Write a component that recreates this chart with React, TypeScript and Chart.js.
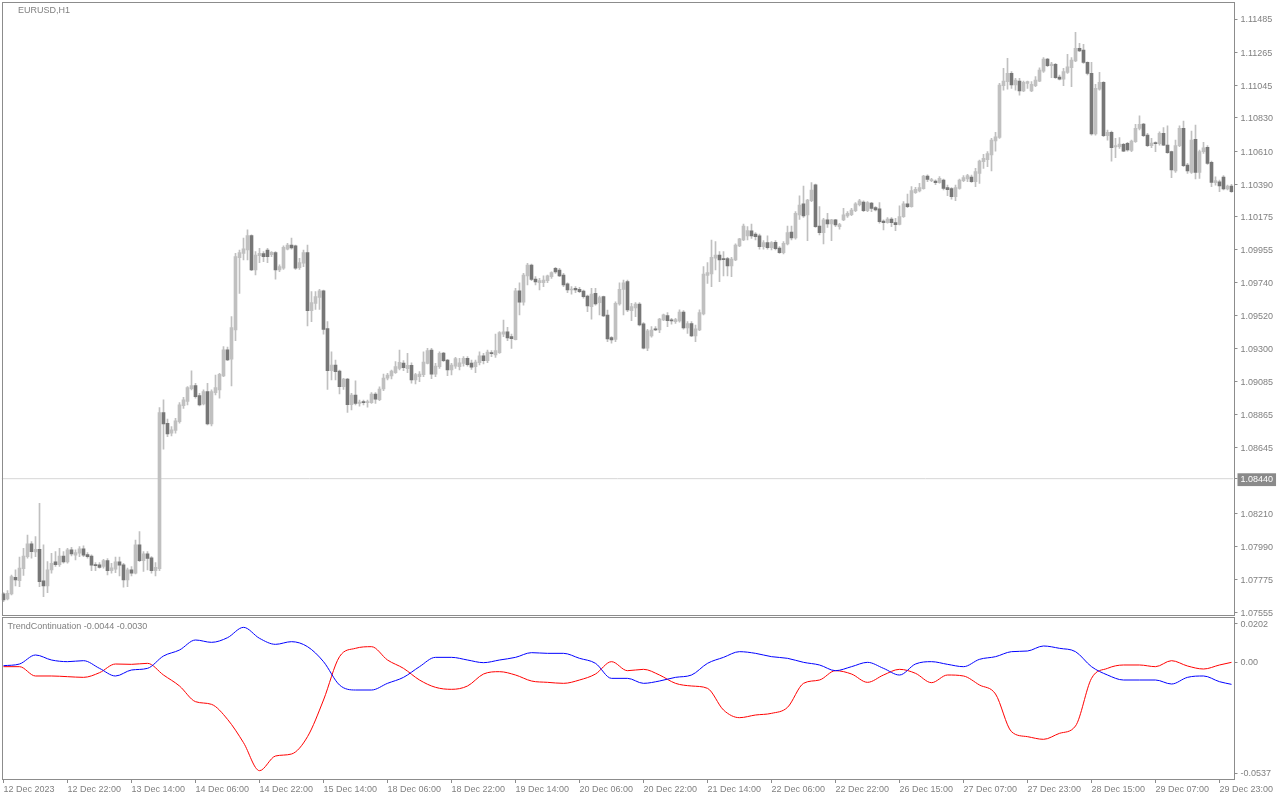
import { useEffect, useRef } from 'react';
import { Chart, registerables } from 'chart.js';

Chart.register(...registerables);

const symbolTitle = 'EURUSD,H1';
const indicatorTitle = 'TrendContinuation -0.0044 -0.0030';

const timeTickLabels = [
  '12 Dec 2023', '12 Dec 22:00', '13 Dec 14:00', '14 Dec 06:00', '14 Dec 22:00',
  '15 Dec 14:00', '18 Dec 06:00', '18 Dec 22:00', '19 Dec 14:00', '20 Dec 06:00',
  '20 Dec 22:00', '21 Dec 14:00', '22 Dec 06:00', '22 Dec 22:00', '26 Dec 15:00',
  '27 Dec 07:00', '27 Dec 23:00', '28 Dec 15:00', '29 Dec 07:00', '29 Dec 23:00',
];
const barsPerTimeTick = 16;

const priceTicks = [
  1.11485, 1.11265, 1.11045, 1.1083, 1.1061, 1.1039, 1.10175, 1.09955, 1.0974, 1.0952,
  1.093, 1.09085, 1.08865, 1.08645, 1.0844, 1.0821, 1.0799, 1.07775, 1.07555,
];
const currentPrice = 1.0844;
const priceMin = 1.07537;
const priceMax = 1.11591;

const indicatorMin = -0.0537;
const indicatorMax = 0.0202;
const indicatorTickLabels = ['0.0202', '0.00', '-0.0537'];

const opens = [
  1.07677, 1.07644, 1.07677, 1.07787, 1.07765, 1.07844, 1.07924, 1.08008, 1.07955, 1.07972,
  1.07763, 1.0773, 1.07836, 1.07889, 1.07871, 1.07928, 1.07889, 1.07968, 1.07933, 1.07946,
  1.07975, 1.07937, 1.07928, 1.07869, 1.07869, 1.07858, 1.07897, 1.07831, 1.0784, 1.07889,
  1.07869, 1.07769, 1.07836, 1.07814, 1.08001, 1.07897, 1.07942, 1.07915, 1.07831, 1.07844,
  1.08878, 1.08807, 1.08741, 1.08759, 1.08818, 1.08924, 1.08951, 1.09037, 1.09057, 1.0899,
  1.08935, 1.09017, 1.08803, 1.0901, 1.09028, 1.09121, 1.09293, 1.09231, 1.09425, 1.09904,
  1.09933, 1.09955, 1.1005, 1.09823, 1.09918, 1.09931, 1.09955, 1.09924, 1.09938, 1.09823,
  1.09834, 1.0996, 1.09988, 1.09982, 1.09838, 1.09867, 1.09938, 1.09553, 1.09601, 1.09641,
  1.09685, 1.09434, 1.09155, 1.09193, 1.09153, 1.09049, 1.091, 1.0893, 1.08994, 1.08939,
  1.08948, 1.08944, 1.08944, 1.09001, 1.08963, 1.09034, 1.09105, 1.0912, 1.09142, 1.09171,
  1.09206, 1.09169, 1.09191, 1.09094, 1.09116, 1.09129, 1.09204, 1.09292, 1.09133, 1.09182,
  1.09272, 1.09226, 1.0916, 1.09186, 1.09182, 1.09204, 1.09237, 1.09206, 1.09182, 1.09208,
  1.09253, 1.09222, 1.09275, 1.09259, 1.09275, 1.09398, 1.09412, 1.09381, 1.09361, 1.09685,
  1.0961, 1.09783, 1.09855, 1.09763, 1.09738, 1.09738, 1.09752, 1.09778, 1.09833, 1.09822,
  1.09789, 1.0973, 1.0969, 1.09701, 1.09694, 1.09683, 1.0965, 1.09579, 1.09668, 1.09606,
  1.09646, 1.09524, 1.09374, 1.09363, 1.09597, 1.09694, 1.09745, 1.09553, 1.09571, 1.09597,
  1.09465, 1.09304, 1.09385, 1.09432, 1.09425, 1.09491, 1.0952, 1.09491, 1.0948, 1.09485,
  1.09544, 1.09438, 1.09467, 1.09385, 1.09425, 1.09531, 1.09787, 1.09796, 1.099, 1.09922,
  1.09898, 1.09898, 1.09849, 1.09889, 1.09982, 1.10021, 1.10048, 1.10081, 1.10061, 1.10048,
  1.09977, 1.10004, 1.09971, 1.10006, 1.09968, 1.09937, 1.09995, 1.10074, 1.10035, 1.10187,
  1.1026, 1.10187, 1.10282, 1.10386, 1.10114, 1.1007, 1.10154, 1.10127, 1.10154, 1.1011,
  1.10154, 1.1018, 1.10189, 1.10216, 1.10255, 1.10273, 1.10216, 1.10266, 1.10236, 1.10227,
  1.10147, 1.10136, 1.1016, 1.10136, 1.10125, 1.10176, 1.1026, 1.10242, 1.10335, 1.10346,
  1.10361, 1.10445, 1.10414, 1.10412, 1.10401, 1.10418, 1.10368, 1.10361, 1.10308, 1.10363,
  1.10414, 1.10425, 1.10438, 1.10407, 1.10462, 1.1054, 1.10553, 1.10584, 1.10677, 1.10701,
  1.11043, 1.1107, 1.11125, 1.11048, 1.11074, 1.11008, 1.11059, 1.11008, 1.11043, 1.11074,
  1.1114, 1.1122, 1.11176, 1.11184, 1.11101, 1.11087, 1.11131, 1.11162, 1.11207, 1.1129,
  1.11279, 1.11198, 1.11125, 1.10723, 1.11021, 1.11065, 1.10712, 1.10734, 1.10637, 1.10639,
  1.10655, 1.10661, 1.10615, 1.10672, 1.10761, 1.10789, 1.10716, 1.10646, 1.10663, 1.10659,
  1.10727, 1.1065, 1.10606, 1.10478, 1.10646, 1.10761, 1.10518, 1.10469, 1.10688, 1.10469,
  1.10606, 1.10635, 1.10535, 1.10401, 1.10407, 1.10438, 1.10359, 1.10379,
];

const highs = [
  1.07685, 1.07699, 1.07802, 1.07836, 1.0792, 1.07979, 1.08067, 1.08023, 1.08056, 1.08277,
  1.08001, 1.07891, 1.07946, 1.07957, 1.07979, 1.07957, 1.07979, 1.07986, 1.07968, 1.0799,
  1.07995, 1.0795, 1.07935, 1.07884, 1.07884, 1.07906, 1.07911, 1.0788, 1.0792, 1.0792,
  1.0788, 1.07847, 1.07858, 1.08034, 1.0809, 1.07957, 1.07957, 1.07924, 1.07884, 1.08911,
  1.08962, 1.08834, 1.08785, 1.0884, 1.08944, 1.08979, 1.0905, 1.09154, 1.09072, 1.09006,
  1.09028, 1.09072, 1.09028, 1.09127, 1.09138, 1.09315, 1.09311, 1.09514, 1.09933, 1.09955,
  1.10033, 1.10088, 1.10055, 1.09944, 1.09966, 1.09944, 1.09966, 1.09944, 1.09944, 1.09856,
  1.09982, 1.09999, 1.10033, 1.09988, 1.099, 1.09955, 1.09988, 1.09679, 1.09679, 1.09694,
  1.0969, 1.0948, 1.09281, 1.09226, 1.0916, 1.09105, 1.09105, 1.09005, 1.09089, 1.08961,
  1.08961, 1.08961, 1.0901, 1.0901, 1.09049, 1.09133, 1.09138, 1.0916, 1.09215, 1.09292,
  1.09222, 1.0927, 1.09208, 1.09138, 1.09149, 1.09281, 1.09303, 1.09303, 1.09204, 1.09281,
  1.09277, 1.09231, 1.09204, 1.09244, 1.09237, 1.09248, 1.09248, 1.09226, 1.09226, 1.09281,
  1.0927, 1.09292, 1.09288, 1.09398, 1.09414, 1.09491, 1.09442, 1.09398, 1.09701, 1.09738,
  1.098, 1.09866, 1.09862, 1.09778, 1.09767, 1.09783, 1.09789, 1.09811, 1.0984, 1.09833,
  1.098, 1.09738, 1.09712, 1.09712, 1.09707, 1.0969, 1.09657, 1.09701, 1.09701, 1.0965,
  1.0965, 1.09557, 1.09381, 1.09612, 1.09738, 1.09756, 1.09756, 1.09602, 1.09606, 1.09606,
  1.09474, 1.0943, 1.09447, 1.09447, 1.09502, 1.09531, 1.0954, 1.09502, 1.09502, 1.09558,
  1.09553, 1.0948, 1.0948, 1.09458, 1.09558, 1.09845, 1.09871, 1.10021, 1.1001, 1.09944,
  1.09944, 1.09907, 1.09907, 1.09995, 1.10032, 1.10127, 1.1011, 1.10127, 1.1007, 1.10061,
  1.10017, 1.10048, 1.1001, 1.10017, 1.09977, 1.1001, 1.10114, 1.10114, 1.10209, 1.10313,
  1.10379, 1.10291, 1.10401, 1.10392, 1.10242, 1.10165, 1.10198, 1.10158, 1.10158, 1.10132,
  1.10231, 1.10209, 1.10231, 1.10269, 1.10291, 1.1028, 1.10275, 1.10271, 1.10242, 1.10269,
  1.10154, 1.10169, 1.10169, 1.10165, 1.10247, 1.10275, 1.10326, 1.10375, 1.1037, 1.10397,
  1.1045, 1.10452, 1.1043, 1.10419, 1.10441, 1.10425, 1.10385, 1.10368, 1.10385, 1.10425,
  1.10447, 1.10456, 1.10451, 1.10496, 1.10551, 1.10588, 1.10606, 1.10694, 1.10734, 1.11059,
  1.11158, 1.11224, 1.11136, 1.11092, 1.11092, 1.11074, 1.11074, 1.1107, 1.11103, 1.11162,
  1.11229, 1.11224, 1.11198, 1.11191, 1.11114, 1.11158, 1.11251, 1.11229, 1.11396, 1.11324,
  1.11317, 1.11202, 1.11198, 1.11052, 1.11131, 1.1107, 1.1075, 1.10743, 1.10694, 1.10699,
  1.10661, 1.10668, 1.10683, 1.10787, 1.10844, 1.10794, 1.10727, 1.10694, 1.10672, 1.10738,
  1.10765, 1.10778, 1.1061, 1.10683, 1.10778, 1.10809, 1.10529, 1.10743, 1.10783, 1.10617,
  1.10668, 1.10646, 1.10544, 1.1044, 1.10418, 1.10447, 1.10385, 1.1039,
];

const lows = [
  1.07626, 1.07637, 1.0767, 1.0773, 1.07725, 1.078, 1.07913, 1.07913, 1.07924, 1.07725,
  1.07659, 1.07685, 1.07814, 1.07858, 1.07858, 1.0788, 1.0788, 1.07928, 1.07902, 1.07924,
  1.07924, 1.07913, 1.07831, 1.07831, 1.07847, 1.07847, 1.07802, 1.07814, 1.07818, 1.07796,
  1.07721, 1.07725, 1.07796, 1.07809, 1.07891, 1.07825, 1.07836, 1.07814, 1.07796, 1.07831,
  1.08635, 1.08719, 1.08723, 1.08741, 1.08807, 1.08906, 1.08929, 1.09028, 1.08973, 1.08922,
  1.08929, 1.08796, 1.08789, 1.08995, 1.08973, 1.09116, 1.09222, 1.09054, 1.09355, 1.09668,
  1.09889, 1.09889, 1.09818, 1.0979, 1.09871, 1.09878, 1.09871, 1.09911, 1.09761, 1.09812,
  1.09827, 1.09955, 1.0996, 1.09827, 1.09827, 1.09845, 1.09452, 1.0948, 1.09562, 1.09562,
  1.09398, 1.09032, 1.09094, 1.09094, 1.09001, 1.09032, 1.08879, 1.08895, 1.08928, 1.08921,
  1.08928, 1.08913, 1.08939, 1.08939, 1.08957, 1.09023, 1.09094, 1.09101, 1.09138, 1.0916,
  1.09155, 1.09142, 1.09072, 1.09067, 1.09083, 1.09116, 1.092, 1.09103, 1.09116, 1.09171,
  1.09215, 1.09122, 1.09127, 1.09171, 1.0916, 1.09186, 1.09186, 1.09164, 1.09142, 1.09193,
  1.092, 1.09208, 1.09248, 1.09244, 1.0927, 1.09381, 1.09354, 1.09303, 1.09359, 1.09524,
  1.0959, 1.09723, 1.09752, 1.09723, 1.0969, 1.09712, 1.09738, 1.09767, 1.098, 1.09778,
  1.09712, 1.09672, 1.09663, 1.09672, 1.09672, 1.09635, 1.09546, 1.09496, 1.0959, 1.09524,
  1.09513, 1.09348, 1.09337, 1.09348, 1.0959, 1.09524, 1.09547, 1.09487, 1.09514, 1.09452,
  1.09299, 1.09288, 1.09377, 1.09421, 1.09408, 1.09487, 1.09447, 1.09463, 1.09469, 1.09476,
  1.0943, 1.09403, 1.09381, 1.09348, 1.09421, 1.09525, 1.09734, 1.09712, 1.09823, 1.09745,
  1.09783, 1.09783, 1.09778, 1.09884, 1.09977, 1.10017, 1.10021, 1.10032, 1.10021, 1.0996,
  1.0996, 1.0996, 1.09955, 1.09955, 1.09933, 1.09929, 1.09988, 1.10021, 1.10026, 1.10158,
  1.10171, 1.10017, 1.10275, 1.10105, 1.10054, 1.09995, 1.10105, 1.10017, 1.1011, 1.10092,
  1.10149, 1.10171, 1.10183, 1.10209, 1.10247, 1.10209, 1.10209, 1.10209, 1.10213, 1.10132,
  1.10088, 1.10132, 1.1011, 1.10083, 1.10121, 1.10171, 1.10235, 1.10238, 1.1033, 1.10339,
  1.10357, 1.10408, 1.10408, 1.10388, 1.10397, 1.10352, 1.10315, 1.10292, 1.10281, 1.10357,
  1.10407, 1.10407, 1.10403, 1.10374, 1.10396, 1.10496, 1.10507, 1.10478, 1.1061, 1.10694,
  1.11014, 1.11021, 1.11025, 1.11014, 1.10981, 1.11003, 1.11025, 1.11003, 1.11036, 1.1107,
  1.11131, 1.11169, 1.11096, 1.11092, 1.11081, 1.11043, 1.11125, 1.11036, 1.11202, 1.11268,
  1.11191, 1.11114, 1.10716, 1.10716, 1.11014, 1.10705, 1.10683, 1.10544, 1.10566, 1.10628,
  1.10606, 1.1061, 1.10606, 1.10668, 1.1075, 1.10705, 1.10639, 1.10632, 1.10606, 1.1065,
  1.10646, 1.10595, 1.10434, 1.10469, 1.10639, 1.10507, 1.10462, 1.10462, 1.10425, 1.10429,
  1.10595, 1.10522, 1.10374, 1.10385, 1.10341, 1.10352, 1.10352, 1.10337,
];

const closes = [
  1.07637, 1.07681, 1.07791, 1.07769, 1.07847, 1.07928, 1.08008, 1.07957, 1.07972, 1.07758,
  1.0773, 1.07836, 1.0788, 1.07871, 1.07928, 1.07889, 1.07968, 1.07942, 1.0795, 1.07975,
  1.07933, 1.07924, 1.07867, 1.07864, 1.07853, 1.07897, 1.07831, 1.07849, 1.07889, 1.07867,
  1.07769, 1.07836, 1.07814, 1.08001, 1.07897, 1.07942, 1.07911, 1.07831, 1.07853, 1.08878,
  1.08803, 1.08736, 1.08763, 1.08823, 1.08929, 1.08962, 1.09043, 1.09057, 1.08984, 1.08929,
  1.09017, 1.08803, 1.09017, 1.09043, 1.09132, 1.09293, 1.09227, 1.09441, 1.09911, 1.09938,
  1.09962, 1.1005, 1.09823, 1.09922, 1.09933, 1.09911, 1.09911, 1.0994, 1.09823, 1.09845,
  1.09973, 1.09988, 1.09969, 1.09834, 1.09871, 1.09938, 1.09553, 1.09606, 1.09646, 1.09685,
  1.09429, 1.09155, 1.09193, 1.09149, 1.09049, 1.091, 1.0893, 1.08994, 1.08939, 1.08948,
  1.08944, 1.08948, 1.09001, 1.08966, 1.09034, 1.09107, 1.09127, 1.09153, 1.09182, 1.09211,
  1.09175, 1.09191, 1.09094, 1.09129, 1.09133, 1.09213, 1.09288, 1.09133, 1.09186, 1.0927,
  1.09222, 1.0916, 1.09193, 1.09235, 1.09208, 1.09237, 1.09195, 1.09178, 1.09213, 1.09253,
  1.09222, 1.09279, 1.09268, 1.09288, 1.09407, 1.09412, 1.09372, 1.09367, 1.09685, 1.0961,
  1.09789, 1.09855, 1.0976, 1.09743, 1.09752, 1.09756, 1.09783, 1.09805, 1.09809, 1.09783,
  1.09723, 1.0969, 1.09696, 1.0969, 1.09679, 1.09646, 1.09584, 1.09663, 1.09597, 1.09639,
  1.09518, 1.09365, 1.09359, 1.09601, 1.09694, 1.09738, 1.09558, 1.0958, 1.09597, 1.09458,
  1.09304, 1.09419, 1.09425, 1.09425, 1.09498, 1.09525, 1.09487, 1.09485, 1.09494, 1.09544,
  1.09438, 1.09467, 1.09385, 1.09432, 1.0954, 1.09796, 1.09805, 1.09907, 1.09922, 1.09889,
  1.09891, 1.09849, 1.09895, 1.09988, 1.10028, 1.10114, 1.10083, 1.10048, 1.10043, 1.09977,
  1.10004, 1.09971, 1.10004, 1.09964, 1.09937, 1.09999, 1.1007, 1.10035, 1.10198, 1.10253,
  1.1018, 1.10286, 1.10352, 1.1011, 1.1007, 1.10154, 1.10127, 1.10154, 1.10121, 1.10123,
  1.10187, 1.10198, 1.1022, 1.1026, 1.1028, 1.10216, 1.10269, 1.10231, 1.1022, 1.10143,
  1.10136, 1.1016, 1.10136, 1.10123, 1.10176, 1.1026, 1.10242, 1.10348, 1.10357, 1.10368,
  1.10445, 1.10423, 1.10419, 1.10401, 1.1043, 1.10363, 1.10354, 1.10308, 1.10368, 1.10418,
  1.10434, 1.10447, 1.10407, 1.10474, 1.10544, 1.10562, 1.10593, 1.10683, 1.10705, 1.11048,
  1.11074, 1.11125, 1.11048, 1.11081, 1.11008, 1.11065, 1.1107, 1.11052, 1.11081, 1.11147,
  1.1122, 1.11176, 1.11187, 1.11096, 1.11087, 1.11136, 1.11169, 1.11213, 1.1129, 1.11273,
  1.11198, 1.11125, 1.10723, 1.11025, 1.11065, 1.10712, 1.10734, 1.10632, 1.10646, 1.10657,
  1.1061, 1.10617, 1.10677, 1.10761, 1.10787, 1.10712, 1.10646, 1.10663, 1.10659, 1.10727,
  1.1065, 1.10599, 1.10485, 1.10646, 1.10761, 1.10513, 1.10478, 1.10683, 1.10469, 1.10606,
  1.10632, 1.10529, 1.10403, 1.10414, 1.10379, 1.10359, 1.10379, 1.10341,
];

const indicatorBars = [
  0, 4, 8, 12, 16, 20, 24, 28, 32, 36, 40, 44, 48, 52, 56, 60, 64, 68, 72, 76,
  80, 84, 88, 92, 96, 100, 104, 108, 112, 116, 120, 124, 128, 132, 136, 140, 144, 148, 152, 156,
  160, 164, 168, 172, 176, 180, 184, 188, 192, 196, 200, 204, 208, 212, 216, 220, 224, 228, 232, 236,
  240, 244, 248, 252, 256, 260, 264, 268, 272, 276, 280, 284, 288, 292, 296, 300, 304, 307,
];

const blueLine = [
  -0.00168, -0.00092, 0.00322, 0.00092, 0.00016, 0.00061, -0.00291, -0.00642, -0.00367, -0.00291,
  0.00276, 0.00551, 0.0101, 0.00903, 0.01117, 0.01591, 0.01087, 0.00811, 0.00934, 0.00704,
  0.00016, -0.01055, -0.01285, -0.01285, -0.00979, -0.00704, -0.00214, 0.00214, 0.00214, 0.00092,
  -0.0003, 0.00092, 0.00214, 0.00429, 0.00398, 0.00398, 0.00169, -0.00061, -0.0075, -0.0075,
  -0.00979, -0.00872, -0.00704, -0.00597, -0.00061, 0.00214, 0.00475, 0.00398, 0.00245, 0.00169,
  -0.00015, -0.00137, -0.00398, -0.00214, -0.00015, -0.00291, -0.00597, -0.00092, 0.00016, -0.00107,
  -0.00214, 0.00123, 0.00245, 0.00475, 0.00505, 0.00735, 0.00628, 0.00475, -0.00214, -0.00597,
  -0.00826, -0.00826, -0.00826, -0.0101, -0.00704, -0.00642, -0.00903, -0.01025,
];

const redLine = [
  -0.00214, -0.00214, -0.00642, -0.00642, -0.00673, -0.00704, -0.0049, -0.00092, -0.00107, -0.00061,
  -0.00597, -0.01101, -0.0182, -0.01943, -0.02631, -0.03702, -0.04988, -0.04314, -0.04223, -0.03427,
  -0.01744, 0.00245, 0.00628, 0.00704, 0.00092, -0.00291, -0.00826, -0.01162, -0.01254, -0.01101,
  -0.00551, -0.00444, -0.00597, -0.00872, -0.00933, -0.00979, -0.00826, -0.00551, 0.00016, -0.00398,
  -0.00336, -0.00597, -0.00979, -0.01101, -0.01209, -0.02203, -0.02555, -0.02433, -0.02356, -0.02081,
  -0.00979, -0.00826, -0.00398, -0.00551, -0.00933, -0.00597, -0.00336, -0.0052, -0.00948, -0.00597,
  -0.00642, -0.01055, -0.01469, -0.03198, -0.03427, -0.03549, -0.03274, -0.02937, -0.0075, -0.00291,
  -0.00137, -0.00137, -0.00214, 0.00061, -0.00183, -0.00321, -0.00137, -0.00015,
];

// ---- styles ----
const TEXT = '#808080';
const AXIS = '#8c8c8c';
const BULL = '#c0c0c0';
const BEAR = '#777777';
const WICK = '#c0c0c0';
const PRICE_LINE = '#d6d6d6';
const FONT = { family: 'Liberation Sans, Arial, sans-serif', size: 9 };
const AXIS_W = 46.5;

function framePlugin(title: string, titleX: number, titleY: number) {
  return {
    id: 'mtFrame',
    afterDraw(chart: any) {
      const { ctx, chartArea: a } = chart;
      ctx.save();
      ctx.strokeStyle = AXIS;
      ctx.lineWidth = 1;
      const x0 = Math.round(a.left) + 0.5;
      const x1 = a.right + 1;
      const y0 = a.top - 0.5;
      const y1 = a.bottom + 0.5;
      ctx.strokeRect(x0, y0, x1 - x0, y1 - y0);
      ctx.fillStyle = TEXT;
      ctx.font = `${FONT.size}px ${FONT.family}`;
      ctx.textBaseline = 'middle';
      ctx.textAlign = 'left';
      ctx.fillText(title, titleX, titleY);
      ctx.restore();
    },
  };
}

export default function App() {
  const mainRef = useRef<HTMLCanvasElement | null>(null);
  const indRef = useRef<HTMLCanvasElement | null>(null);

  useEffect(() => {
    const N = closes.length;
    const wickData = closes.map((_, i) => ({ x: i, y: [lows[i], highs[i]] }));
    const bodyData = closes.map((c, i) => ({ x: i, y: [opens[i], c] }));
    const bodyColors = closes.map((c, i) => (c >= opens[i] ? BULL : BEAR));

    const main = new Chart(mainRef.current as HTMLCanvasElement, {
      type: 'bar',
      data: {
        datasets: [
          {
            type: 'line',
            data: [
              { x: -0.5, y: currentPrice },
              { x: N - 0.5, y: currentPrice },
            ],
            borderColor: PRICE_LINE,
            borderWidth: 1,
            pointRadius: 0,
            order: 3,
          } as any,
          {
            data: wickData as any,
            backgroundColor: WICK,
            barThickness: 1,
            grouped: false,
            order: 2,
          },
          {
            data: bodyData as any,
            backgroundColor: bodyColors,
            barThickness: 3,
            minBarLength: 1,
            grouped: false,
            order: 1,
          },
        ],
      },
      options: {
        responsive: false,
        animation: false,
        devicePixelRatio: 1,
        events: [],
        layout: { padding: { left: 1.5, top: 3, right: 0, bottom: 1 } },
        plugins: { legend: { display: false }, tooltip: { enabled: false } },
        scales: {
          x: {
            type: 'linear',
            min: -0.5,
            max: N - 0.5,
            offset: false,
            display: false,
          },
          y: {
            position: 'right',
            min: priceMin,
            max: priceMax,
            afterFit: (s: any) => {
              s.width = AXIS_W;
              s.paddingTop = 0;
              s.paddingBottom = 0;
            },
            afterBuildTicks: (s: any) => {
              s.ticks = priceTicks.map((v) => ({ value: v }));
            },
            grid: { drawOnChartArea: false, drawTicks: true, tickLength: 4, color: AXIS },
            border: { display: false },
            ticks: {
              autoSkip: false,
              padding: 3,
              labelOffset: 1,
              font: FONT,
              color: (c: any) => (c.tick && c.tick.value === currentPrice ? '#ffffff' : TEXT),
              showLabelBackdrop: (c: any) => !!(c.tick && c.tick.value === currentPrice),
              backdropColor: '#8a8a8a',
              backdropPadding: { left: 3, right: 3, top: 1, bottom: 1 },
              callback: (v: any) => Number(v).toFixed(5),
            } as any,
          },
        },
      } as any,
      plugins: [framePlugin(symbolTitle, 18, 11)],
    });

    const span = indicatorMax - indicatorMin;
    const edgeInset = span * (6 / 161);
    const ind = new Chart(indRef.current as HTMLCanvasElement, {
      type: 'line',
      data: {
        datasets: [
          {
            data: indicatorBars.map((b, k) => ({ x: b, y: blueLine[k] })),
            borderColor: '#0000ff',
            borderWidth: 1,
            pointRadius: 0,
            cubicInterpolationMode: 'monotone',
          },
          {
            data: indicatorBars.map((b, k) => ({ x: b, y: redLine[k] })),
            borderColor: '#ff0000',
            borderWidth: 1,
            pointRadius: 0,
            cubicInterpolationMode: 'monotone',
          },
        ],
      },
      options: {
        responsive: false,
        animation: false,
        devicePixelRatio: 1,
        events: [],
        layout: { padding: { left: 1.5, top: 2, right: 0, bottom: 0 } },
        plugins: { legend: { display: false }, tooltip: { enabled: false } },
        scales: {
          x: {
            type: 'linear',
            min: -0.5,
            max: N - 0.5,
            offset: false,
            afterFit: (s: any) => {
              s.height = 21;
              s.paddingLeft = 0;
              s.paddingRight = 0;
            },
            afterBuildTicks: (s: any) => {
              s.ticks = timeTickLabels.map((_, j) => ({ value: j * barsPerTimeTick }));
            },
            grid: { drawOnChartArea: false, drawTicks: true, tickLength: 4, color: AXIS },
            border: { display: false },
            ticks: {
              autoSkip: false,
              maxRotation: 0,
              minRotation: 0,
              align: 'start',
              padding: 1,
              font: FONT,
              color: TEXT,
              callback: (_v: any, i: number) => timeTickLabels[i] ?? '',
            },
          },
          y: {
            position: 'right',
            min: indicatorMin,
            max: indicatorMax,
            afterFit: (s: any) => {
              s.width = AXIS_W;
              s.paddingTop = 0;
              s.paddingBottom = 0;
            },
            afterBuildTicks: (s: any) => {
              s.ticks = [
                { value: indicatorMax - edgeInset },
                { value: 0 },
                { value: indicatorMin + edgeInset },
              ];
            },
            grid: { drawOnChartArea: false, drawTicks: true, tickLength: 4, color: AXIS },
            border: { display: false },
            ticks: {
              autoSkip: false,
              padding: 3,
              labelOffset: 1,
              font: FONT,
              color: TEXT,
              callback: (_v: any, i: number) => indicatorTickLabels[i] ?? '',
            },
          },
        },
      } as any,
      plugins: [framePlugin(indicatorTitle, 7.5, 10.5)],
    });

    return () => {
      main.destroy();
      ind.destroy();
    };
  }, []);

  return (
    <div
      style={{
        position: 'fixed',
        left: 0,
        top: 0,
        width: 1280,
        height: 800,
        background: '#ffffff',
        overflow: 'hidden',
      }}
    >
      <canvas
        ref={mainRef}
        width={1280}
        height={616}
        style={{ position: 'absolute', left: 0, top: 0, width: 1280, height: 616 }}
      />
      <canvas
        ref={indRef}
        width={1280}
        height={184}
        style={{ position: 'absolute', left: 0, top: 616, width: 1280, height: 184 }}
      />
    </div>
  );
}
